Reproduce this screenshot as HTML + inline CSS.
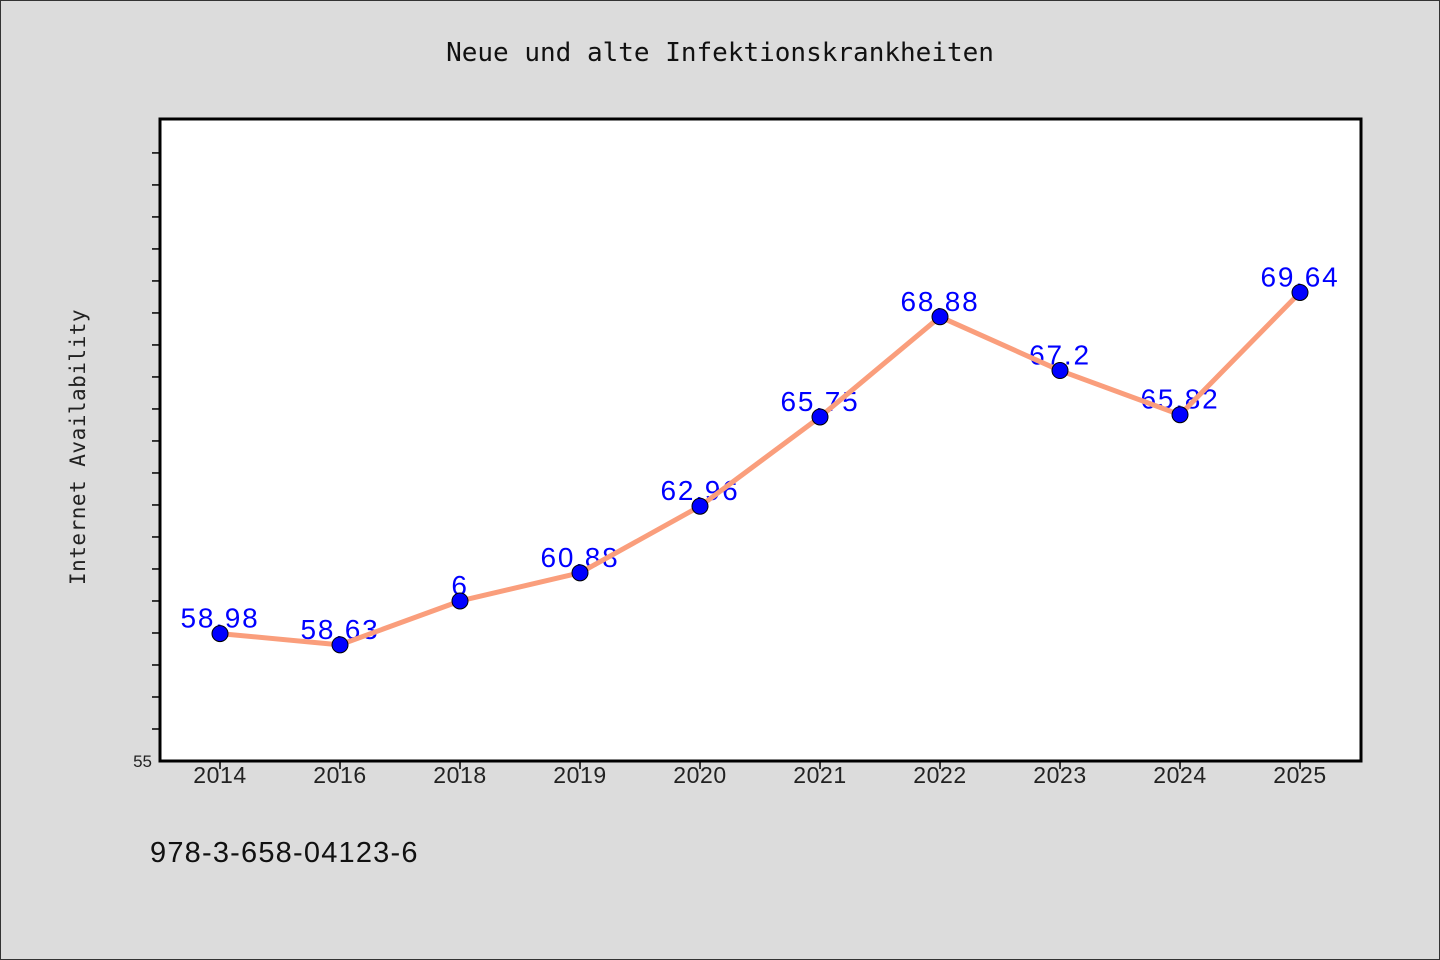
<!DOCTYPE html>
<html><head><meta charset="utf-8"><style>
body{margin:0;background:#dcdcdc;}
svg{display:block;font-family:"Liberation Sans",sans-serif;}
</style></head><body>
<svg id="chart" width="1440" height="960">
<rect x="0.5" y="0.5" width="1439" height="959" fill="#dcdcdc" stroke="#333"/>
<text x="720" y="61" text-anchor="middle" font-size="26" fill="#111" font-family="DejaVu Sans Mono, Liberation Mono, monospace">Neue und alte Infektionskrankheiten</text>
<rect x="160" y="119" width="1201" height="642" fill="#fff" stroke="#000" stroke-width="3"/>
<text transform="translate(85,447) rotate(-90)" text-anchor="middle" font-size="21" fill="#222" font-family="DejaVu Sans Mono, Liberation Mono, monospace" letter-spacing="0.5">Internet Availability</text>
<text x="150" y="862" font-size="29" letter-spacing="1.2" fill="#111">978-3-658-04123-6</text>
<g id="axes"></g><g id="labels"></g><g id="series"></g>
</svg>
<script>
const categories=["2014","2016","2018","2019","2020","2021","2022","2023","2024","2025"];
const values=[58.98,58.63,60,60.88,62.96,65.75,68.88,67.2,65.82,69.64];
const pointLabels=["58.98","58.63","6","60.88","62.96","65.75","68.88","67.2","65.82","69.64"];
const yMin=55,yMax=75.06;
const ns="http://www.w3.org/2000/svg";
const X0=160,X1=1361,Y0=761,Y1=119;
function xs(i){return 220+i*120;}
function ys(v){return Y0-(v-yMin)/(yMax-yMin)*(Y0-Y1);}
function mk(t,a,p){const e=document.createElementNS(ns,t);for(const k in a)e.setAttribute(k,a[k]);p.appendChild(e);return e;}
const ax=document.getElementById('axes'),se=document.getElementById('series'),lb=document.getElementById('labels');
for(let v=56;v<=74;v++){const y=ys(v);
const t=mk('line',{x1:X0-8,x2:X0,y1:y,y2:y,stroke:'#000','stroke-width':1.5},ax);

}
const l55=mk('text',{x:152,y:767,'text-anchor':'end','font-size':17,fill:'#222'},ax);l55.textContent='55';


categories.forEach((c,i)=>{const x=xs(i);
const t=mk('line',{x1:x,x2:x,y1:Y0,y2:Y0+8,stroke:'#000','stroke-width':1.5},ax);


const tl=mk('text',{x:x,y:783,'text-anchor':'middle','font-size':23,'letter-spacing':0.6,fill:'#222'},ax);tl.textContent=c;

});
values.forEach((v,i)=>{
const t=mk('text',{x:xs(i),y:ys(v)-6,'text-anchor':'middle','font-size':28,'letter-spacing':1.8,fill:'#0000ff'},lb);t.textContent=pointLabels[i];

});
const line=mk('polyline',{points:values.map((v,i)=>xs(i)+','+ys(v)).join(' '),fill:'none',stroke:'#fa9e7c','stroke-width':5,'stroke-linejoin':'round'},se);


values.forEach((v,i)=>{
const c=mk('circle',{cx:xs(i),cy:ys(v),r:8,fill:'#0000ff',stroke:'#000','stroke-width':1},se);

});
</script>
</body></html>
